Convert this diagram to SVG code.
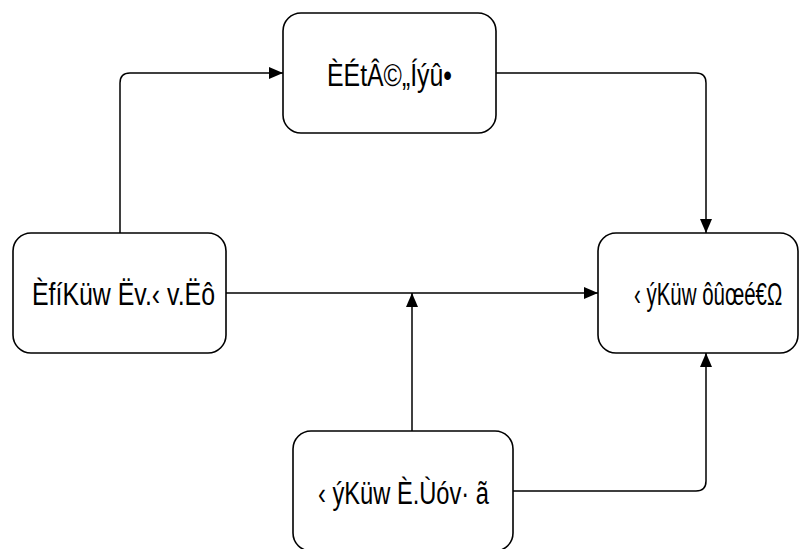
<svg xmlns="http://www.w3.org/2000/svg" width="803" height="549" viewBox="0 0 803 549">
  <style>
    .node rect { fill: #ffffff; stroke: #000000; stroke-width: 1.6; }
    .node text { font-family: "Liberation Sans", Arial, sans-serif; font-size: 31px; fill: #000000; text-anchor: start; }
    .edge { fill: none; stroke: #000000; stroke-width: 1.5; }
  </style>
  <defs>
    <marker id="arrow" viewBox="0 0 14 12" refX="14" refY="6" markerWidth="14" markerHeight="12" markerUnits="userSpaceOnUse" orient="auto">
      <path d="M0,0 L14,6 L0,12 Z" fill="#000000"/>
    </marker>
  </defs>

  <rect width="803" height="549" fill="#ffffff"/>

  <g id="connectors">
    <path class="edge" d="M120,233 V83 Q120,73 130,73 H283" marker-end="url(#arrow)"/>
    <path class="edge" d="M496,73 H696 Q706,73 706,83 V233" marker-end="url(#arrow)"/>
    <path class="edge" d="M226,293 H598" marker-end="url(#arrow)"/>
    <path class="edge" d="M412,431 V293" marker-end="url(#arrow)"/>
    <path class="edge" d="M513,491 H696 Q706,491 706,481 V353" marker-end="url(#arrow)"/>
  </g>

  <g id="node-top" class="node">
    <rect x="283" y="13" width="213" height="120" rx="18"/>
    <text x="327" y="86" textLength="125" lengthAdjust="spacingAndGlyphs">ÈÉtÂ©„Íýû•</text>
  </g>

  <g id="node-left" class="node">
    <rect x="13" y="233" width="213" height="120" rx="18"/>
    <text x="32" y="305" textLength="183" lengthAdjust="spacingAndGlyphs">ÈfíKüw Ëv.‹ v.Ëô</text>
  </g>

  <g id="node-right" class="node">
    <rect x="598" y="233" width="200" height="120" rx="18"/>
    <!-- condensed horizontally so the label fits the narrow box -->
    <text transform="translate(634,305) scale(0.66,1)" x="0" y="0">‹ ýKüw ôûœé€Ω</text>
  </g>

  <g id="node-bottom" class="node">
    <rect x="293" y="431" width="220" height="120" rx="18"/>
    <text x="318" y="504" textLength="171" lengthAdjust="spacingAndGlyphs">‹ ýKüw È.Ùóv· ã</text>
  </g>
</svg>
